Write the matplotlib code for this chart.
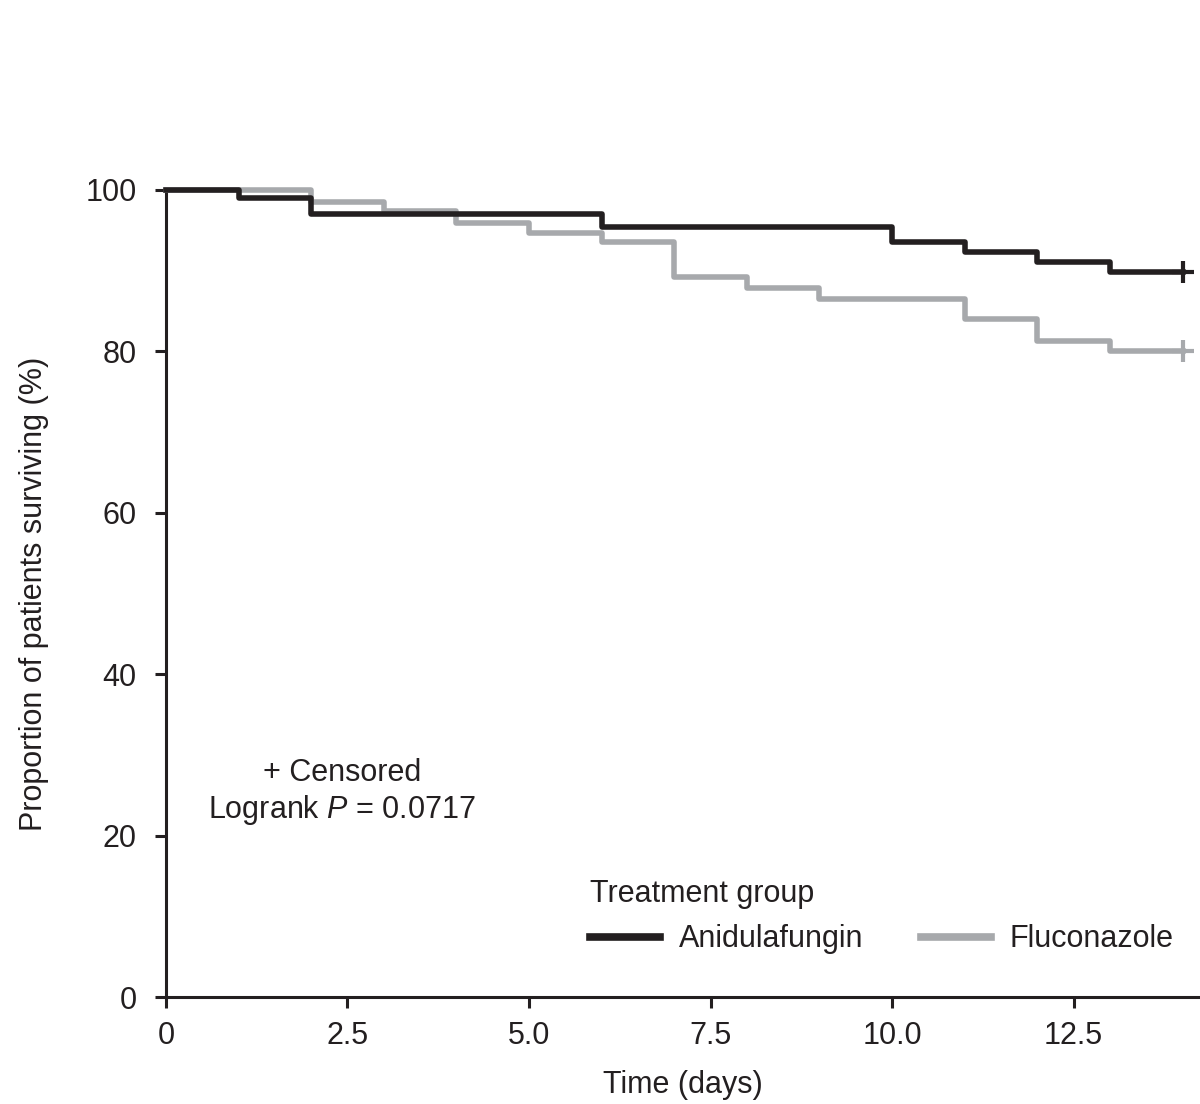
import matplotlib
matplotlib.use("Agg")
import matplotlib.pyplot as plt
from matplotlib.lines import Line2D

plt.rcParams['font.family'] = ['Liberation Sans', 'DejaVu Sans']
plt.rcParams['mathtext.fontset'] = 'custom'
plt.rcParams['mathtext.rm'] = 'Liberation Sans'
plt.rcParams['mathtext.it'] = 'Liberation Sans:italic'

# Data (Kaplan-Meier steps)
anid_time = [0, 1, 2, 6, 10, 11, 12, 13, 14]
anid_surv = [100, 99.0, 97.0, 95.4, 93.6, 92.3, 91.1, 89.8, 89.8]
fluc_time = [0, 2, 3, 4, 5, 6, 7, 8, 9, 11, 12, 13, 14]
fluc_surv = [100, 98.5, 97.4, 95.9, 94.7, 93.6, 89.2, 87.9, 86.5, 84.0, 81.3, 80.0, 80.0]
censor_time = [14, 14]
censor_surv = [89.8, 80.0]
series_names = ["Anidulafungin", "Fluconazole"]
xticks = [0, 2.5, 5.0, 7.5, 10.0, 12.5]
xticklabels = ["0", "2.5", "5.0", "7.5", "10.0", "12.5"]
yticks = [0, 20, 40, 60, 80, 100]

black = "#231f20"
gray = "#a7a9ac"

fig = plt.figure(figsize=(12, 11.04), dpi=100)
ax = fig.add_axes([0.1383, 0.0969, 0.8617, 0.731])

ax.step(fluc_time, fluc_surv, where='post', color=gray, lw=4.0, clip_on=False, zorder=3)
ax.step(anid_time, anid_surv, where='post', color=black, lw=4.0, clip_on=False, zorder=4)
ax.plot([censor_time[1]], [censor_surv[1]], marker='+', color=gray, ms=16, mew=3, ls='none', clip_on=False, zorder=3)
ax.plot([censor_time[0]], [censor_surv[0]], marker='+', color=black, ms=16, mew=3, ls='none', clip_on=False, zorder=4)

ax.set_xlim(0, 14.24)
ax.set_ylim(0, 100)
ax.set_xticks(xticks)
ax.set_xticklabels(xticklabels)
ax.set_yticks(yticks)

for s in ['top', 'right']:
    ax.spines[s].set_visible(False)
for s in ['left', 'bottom']:
    ax.spines[s].set_linewidth(2.2)
    ax.spines[s].set_color(black)

ax.tick_params(axis='both', direction='out', length=8, width=2.2, color=black,
               labelsize=22, labelcolor=black)
ax.tick_params(axis='y', pad=13)
ax.tick_params(axis='x', pad=9)

ax.set_xlabel("Time (days)", fontsize=22, color=black, labelpad=14)
ax.set_ylabel("Proportion of patients surviving (%)", fontsize=22, color=black, labelpad=26)

ax.text(0.170, 0.277, "+ Censored", transform=ax.transAxes, ha='center', va='center',
        fontsize=22, color=black)
ax.text(0.170, 0.232, "Logrank $P$ = 0.0717", transform=ax.transAxes, ha='center', va='center',
        fontsize=22, color=black)

handles = [Line2D([], [], color=black, lw=5.5), Line2D([], [], color=gray, lw=5.5)]
leg = ax.legend(handles, series_names, title="Treatment group", ncol=2, frameon=False,
                loc='upper left', bbox_to_anchor=(0.41, 0.146), fontsize=22,
                title_fontsize=22, handlelength=2.3, handletextpad=0.6,
                columnspacing=1.9, borderpad=0, borderaxespad=0, alignment='left')
for t in leg.get_texts():
    t.set_color(black)
leg.get_title().set_color(black)

fig.savefig("out.png", dpi=100)
